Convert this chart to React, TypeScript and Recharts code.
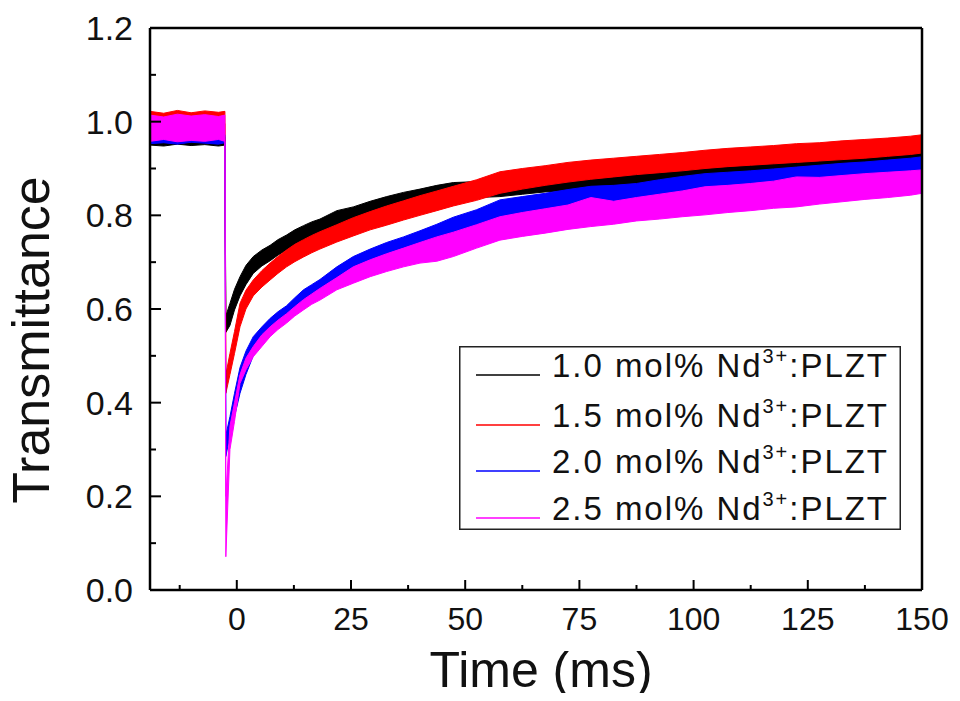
import { AreaChart, Area, XAxis, YAxis, ReferenceLine } from "recharts";

// time axis (ms) and band edges (lower / upper) of each noisy trace
const TIME = [-19, -16, -13, -10, -7, -4, -2.6, -2.4, -1.5, -0.5, 0.7, 2, 3.6, 5.5, 7.3, 9, 10.9, 12.7, 14.6, 16.4, 18.2, 21.9, 25.5, 29.2, 32.8, 36.5, 40.1, 43.8, 47.4, 52.5, 57.6, 62.5, 67.5, 72.5, 77.5, 82.5, 87.5, 92.5, 97.5, 102.5, 107.5, 112.5, 117.5, 122.5, 127.5, 132.5, 137.5, 142.5, 147.5, 150];

const BLACK_LO = [0.950, 0.948, 0.952, 0.949, 0.951, 0.948, 0.950, 0.55, 0.565, 0.598, 0.628, 0.652, 0.676, 0.692, 0.703, 0.715, 0.726, 0.736, 0.746, 0.754, 0.761, 0.777, 0.787, 0.798, 0.807, 0.816, 0.822, 0.83, 0.835, 0.838, 0.84, 0.845, 0.85, 0.853, 0.857, 0.86, 0.864, 0.867, 0.871, 0.875, 0.878, 0.881, 0.884, 0.889, 0.892, 0.895, 0.899, 0.903, 0.907, 0.91];
const BLACK_HI = [0.968, 0.971, 0.966, 0.970, 0.967, 0.972, 0.968, 0.585, 0.612, 0.642, 0.669, 0.693, 0.712, 0.726, 0.736, 0.748, 0.758, 0.769, 0.778, 0.786, 0.792, 0.81, 0.818, 0.83, 0.84, 0.849, 0.856, 0.864, 0.87, 0.872, 0.876, 0.879, 0.884, 0.884, 0.886, 0.889, 0.892, 0.896, 0.899, 0.903, 0.905, 0.909, 0.911, 0.917, 0.919, 0.923, 0.926, 0.93, 0.936, 0.94];

const RED_LO = [0.996, 0.994, 0.997, 0.995, 0.996, 0.994, 0.996, 0.42, 0.46, 0.505, 0.562, 0.6, 0.628, 0.647, 0.662, 0.676, 0.69, 0.701, 0.711, 0.72, 0.728, 0.743, 0.756, 0.769, 0.779, 0.79, 0.8, 0.81, 0.82, 0.832, 0.847, 0.856, 0.864, 0.871, 0.877, 0.882, 0.887, 0.891, 0.895, 0.9, 0.904, 0.907, 0.91, 0.913, 0.916, 0.919, 0.922, 0.926, 0.93, 0.933];
const RED_HI = [1.022, 1.018, 1.024, 1.019, 1.023, 1.02, 1.022, 0.46, 0.505, 0.552, 0.612, 0.64, 0.662, 0.682, 0.698, 0.712, 0.726, 0.738, 0.748, 0.757, 0.765, 0.78, 0.795, 0.808, 0.82, 0.831, 0.842, 0.852, 0.862, 0.876, 0.893, 0.9, 0.906, 0.913, 0.918, 0.922, 0.926, 0.93, 0.934, 0.939, 0.943, 0.946, 0.949, 0.953, 0.955, 0.959, 0.962, 0.965, 0.969, 0.972];

const BLUE_LO = [0.953, 0.955, 0.952, 0.956, 0.954, 0.952, 0.955, 0.285, 0.33, 0.37, 0.42, 0.46, 0.5, 0.525, 0.545, 0.56, 0.574, 0.59, 0.606, 0.618, 0.628, 0.655, 0.677, 0.692, 0.706, 0.718, 0.73, 0.745, 0.758, 0.774, 0.79, 0.8, 0.808, 0.816, 0.824, 0.828, 0.834, 0.84, 0.845, 0.85, 0.855, 0.859, 0.864, 0.869, 0.874, 0.878, 0.884, 0.889, 0.893, 0.897];
const BLUE_HI = [0.972, 0.975, 0.97, 0.974, 0.971, 0.975, 0.972, 0.33, 0.37, 0.42, 0.475, 0.51, 0.541, 0.562, 0.58, 0.594, 0.607, 0.624, 0.641, 0.652, 0.663, 0.69, 0.712, 0.728, 0.742, 0.754, 0.767, 0.781, 0.796, 0.812, 0.833, 0.84, 0.847, 0.855, 0.862, 0.864, 0.868, 0.876, 0.883, 0.889, 0.892, 0.895, 0.899, 0.903, 0.907, 0.911, 0.914, 0.918, 0.922, 0.925];

const MAGENTA_LO = [0.958, 0.962, 0.957, 0.96, 0.958, 0.962, 0.958, 0.071, 0.30, 0.36, 0.441, 0.47, 0.498, 0.52, 0.541, 0.556, 0.57, 0.585, 0.598, 0.61, 0.619, 0.641, 0.655, 0.669, 0.68, 0.69, 0.698, 0.702, 0.712, 0.73, 0.747, 0.755, 0.762, 0.77, 0.776, 0.781, 0.788, 0.792, 0.797, 0.801, 0.806, 0.81, 0.815, 0.818, 0.824, 0.829, 0.834, 0.838, 0.843, 0.847];
const MAGENTA_HI = [1.014, 1.01, 1.016, 1.012, 1.015, 1.011, 1.014, 0.2, 0.35, 0.40, 0.46, 0.495, 0.52, 0.545, 0.562, 0.576, 0.59, 0.605, 0.62, 0.632, 0.644, 0.667, 0.69, 0.705, 0.718, 0.73, 0.742, 0.754, 0.764, 0.78, 0.797, 0.806, 0.814, 0.822, 0.838, 0.83, 0.838, 0.845, 0.852, 0.861, 0.864, 0.868, 0.873, 0.882, 0.881, 0.885, 0.889, 0.892, 0.895, 0.897];

const X_TICKS = [-12.5, 0, 12.5, 25, 37.5, 50, 62.5, 75, 87.5, 100, 112.5, 125, 137.5, 150];
const Y_TICKS = [0, 0.1, 0.2, 0.3, 0.4, 0.5, 0.6, 0.7, 0.8, 0.9, 1.0, 1.1, 1.2];
const X_LABELED = [0, 25, 50, 75, 100, 125, 150];
const Y_LABELED = [0, 0.2, 0.4, 0.6, 0.8, 1.0, 1.2];

const SERIES = [
  { key: "k", name: "1.0 mol% Nd", color: "#000000" },
  { key: "r", name: "1.5 mol% Nd", color: "#ff0000" },
  { key: "b", name: "2.0 mol% Nd", color: "#0000ff" },
  { key: "m", name: "2.5 mol% Nd", color: "#ff00ff" },
];

const data = TIME.map((t, i) => ({
  t,
  k: [BLACK_LO[i], BLACK_HI[i]],
  r: [RED_LO[i], RED_HI[i]],
  b: [BLUE_LO[i], BLUE_HI[i]],
  m: [MAGENTA_LO[i], MAGENTA_HI[i]],
}));

const FONT = "'Liberation Sans', Arial, sans-serif";
const X_GAP = 17; // axis line to label top
const Y_GAP = 17; // axis line to label right edge

// inward ticks, long for labelled values and short for the others
function XTick(props: any) {
  const { x, y, payload } = props;
  const v = payload.value;
  const major = X_LABELED.includes(v);
  const axisY = y - X_GAP;
  return (
    <g>
      <line x1={x} x2={x} y1={axisY} y2={axisY - (major ? 10 : 5)} stroke="#000" strokeWidth={2} />
      {major && (
        <text x={x} y={y} dy="0.71em" textAnchor="middle" fontSize={32} fontFamily={FONT} fill="#111">{v}</text>
      )}
    </g>
  );
}

function YTick(props: any) {
  const { x, y, payload } = props;
  const v = payload.value;
  const major = Y_LABELED.some((m) => Math.abs(m - v) < 1e-6);
  const axisX = x + Y_GAP;
  return (
    <g>
      <line x1={axisX} x2={axisX + (major ? 11 : 6)} y1={y} y2={y} stroke="#000" strokeWidth={2} />
      {major && (
        <text x={x} y={y} dy="0.355em" textAnchor="end" fontSize={34} fontFamily={FONT} fill="#111">{v.toFixed(1)}</text>
      )}
    </g>
  );
}

function LegendBox() {
  const rowY = [31, 81, 127, 174];
  return (
    <svg width={442} height={184} style={{ display: "block" }}>
      <rect x={0.75} y={0.75} width={440.5} height={182.5} fill="#fff" stroke="#222" strokeWidth={1.5} />
      {SERIES.map((s, i) => (
        <g key={s.key}>
          <line x1={17} x2={81} y1={rowY[i] - 2} y2={rowY[i] - 2} stroke={s.color} strokeWidth={1.3} />
          <text x={93} y={rowY[i]} fontSize={33} fontFamily={FONT} fill="#111" textLength={335} lengthAdjust="spacing">
            {s.name}
            <tspan fontSize={20} dy={-14}>3+</tspan>
            <tspan dy={14}>:PLZT</tspan>
          </text>
        </g>
      ))}
    </svg>
  );
}

export default function App() {
  return (
    <div style={{ position: "relative", width: 944, height: 685, fontFamily: FONT }}>
      <AreaChart width={944} height={685} data={data} margin={{ top: 20, right: 30, bottom: 43, left: 42 }}>
        <XAxis xAxisId="main" type="number" dataKey="t" domain={[-19, 150]} allowDataOverflow ticks={X_TICKS}
          tick={<XTick />} tickSize={0} tickMargin={X_GAP} tickLine={false} interval={0}
          axisLine={{ stroke: "#000", strokeWidth: 2.5 }} height={60} />
        <YAxis yAxisId="main" type="number" domain={[0, 1.2]} allowDataOverflow ticks={Y_TICKS}
          tick={<YTick />} tickSize={0} tickMargin={Y_GAP} tickLine={false} interval={0}
          axisLine={{ stroke: "#000", strokeWidth: 2.5 }} width={100} />
        {SERIES.map((s) => (
          <Area key={s.key} xAxisId="main" yAxisId="main" dataKey={s.key} type="linear"
            stroke={s.color} strokeWidth={1} fill={s.color} fillOpacity={1}
            dot={false} activeDot={false} isAnimationActive={false} />
        ))}
        <ReferenceLine xAxisId="main" yAxisId="main" y={1.2} stroke="#000" strokeWidth={2.5} ifOverflow="visible" />
        <ReferenceLine xAxisId="main" yAxisId="main" x={150} stroke="#000" strokeWidth={2.5} ifOverflow="visible" />
      </AreaChart>
      <div style={{ position: "absolute", left: 451, top: 338 }}>
        <LegendBox />
      </div>
      <div style={{ position: "absolute", left: 23, top: 332, transform: "translate(-50%, -50%) rotate(-90deg)",
        fontSize: 52, whiteSpace: "nowrap", color: "#111", lineHeight: 1 }}>Transmittance</div>
      <div style={{ position: "absolute", left: 533, top: 637, transform: "translateX(-50%)",
        fontSize: 50, whiteSpace: "nowrap", color: "#111", lineHeight: 1 }}>Time (ms)</div>
    </div>
  );
}
